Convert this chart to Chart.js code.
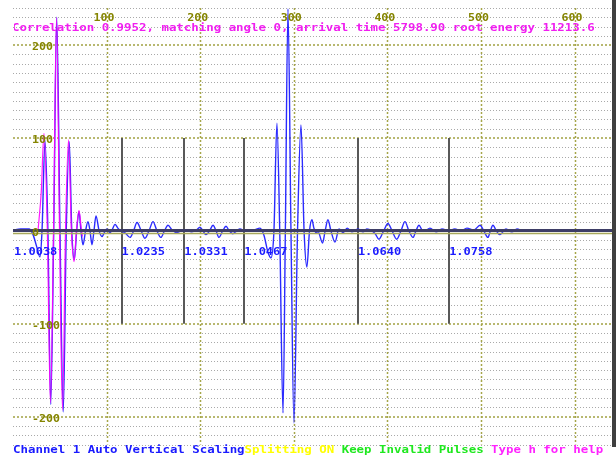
<!DOCTYPE html>
<html>
<head>
<meta charset="utf-8">
<script src="https://cdn.jsdelivr.net/npm/chart.js@4.4.0/dist/chart.umd.min.js"></script>
<style>
  html, body { margin: 0; padding: 0; background: #fff; overflow: hidden; }
  canvas { display: block; }
</style>
</head>
<body>
<canvas id="scope" width="616" height="455"></canvas>
<script>
// ---- Channel 1 trace (sample index, amplitude) ----
const traceX = [0, 8, 17.1, 21.4, 25.6, 28.8, 31, 34.2, 37.3, 40.3, 43.5, 46.7, 50.2, 53.7, 56.9, 60.1, 62.8, 65.5, 68, 70.5,
  72.6, 74.8, 77.5, 80.1, 82.3, 84.4, 86.5, 88.7, 92, 95.1, 98, 100.4, 103.6, 106.3, 109, 112, 115.4, 119.7, 125, 128.8,
  132.5, 137, 141, 145.3, 149.6, 153.8, 158, 161.8, 165.6, 170, 175, 179.5, 183.8, 191, 196, 199.8, 203, 206, 210, 213.7,
  217, 220, 224, 227.6, 231, 235, 239, 242.5, 247.9, 252, 256.4, 263.9, 268.2, 272.4, 275.6, 278.8, 282, 285, 288.5, 291,
  293.8, 297, 300.2, 304, 307.7, 311, 314, 316.8, 319.4, 321.5, 323.7, 326, 330.7, 333.5, 336.5, 339.7, 344, 348.3, 352.6, 357,
  362, 368.6, 374, 378, 383.5, 387, 391, 396, 400.6, 405, 410, 414.5, 418.8, 423, 427.4, 430.5, 433.8, 437, 440, 445.5,
  452, 458.3, 465.8, 472, 478.6, 485, 492.5, 499, 503, 507.5, 510, 512.8, 516.5, 520, 526.7, 533, 538.5, 543.8];
const traceY = [1, 2, 2, -4, -18, -28, 0, 97, 0, -187, 0, 230, 0, -195, 0, 96, 0, -31, 0, 21,
  0, -15, 0, 10, 0, -15, 0, 16, 0, -6, -1, 2, -2, 2, 7, 3, 0, -2, -7, 0,
  9, 0, -8, 0, 10, 0, -7, 0, 6, 1, -2, 0, 1, -1, 1, 4, 0, -4, 0, 6,
  0, -7, 0, 5, 0, -3, 0, 2, 0, 1, 1, 3, -5, -23, -29, 0, 116, 0, -196, 0,
  239, 0, -207, 0, 114, 0, -39, 0, 12, 3, -2, -1, -13, 0, 12, 0, -12, 2, -2, 3,
  -1, 2, -1, 2, 0, -3, -9, 0, 8, 0, -9, 0, 10, 0, -7, 0, 6, 1, 0, 3,
  -1, 2, 0, 2, 0, 3, 1, 6, 0, -7, 0, 6, 0, -4, 2, -1, 2, 0];

// ---- Matching template pulse ----
const templateX = [26.7, 30.2, 33.1, 36.7, 40, 43.3, 46.5, 49.7, 52.9, 56.1, 59.3, 62.4, 65.2, 67.8, 70.5, 72.8, 74.2];
const templateY = [0, 42, 105, 0, -185, 0, 230, 0, -193, 0, 98, 0, -33, 0, 22, 4, -6];

// ---- Pulse split markers ----
const markerX = [0, 116, 183, 247, 368.5, 466];
const markerLabels = ['1.0038', '1.0235', '1.0331', '1.0467', '1.0640', '1.0758'];

// ---- Axis ticks ----
const xTicks = [100, 200, 300, 400, 500, 600];
const yTicks = [200, 100, 0, -100, -200];
const X_MIN = 0, X_MAX = 640, Y_MIN = -230, Y_MAX = 240;

// ---- Status text ----
const headerText = 'Correlation 0.9952, matching angle 0, arrival time 5798.90 root energy 11213.6';
const statusParts = [
  ['Channel 1 Auto Vertical Scaling', '#1a1aff'],
  ['Splitting ON ', '#ffff00'],
  ['Keep Invalid Pulses ', '#1ee81e'],
  ['Type h for help', '#ff22ff']
];

const MONO = 'bold 10px "DejaVu Sans Mono"';
const CHAR_W = 7.47;

function monoText(ctx, str, x0, yc, color, stretch) {
  ctx.save();
  ctx.translate(x0, yc);
  ctx.scale(stretch, 1);
  ctx.font = MONO;
  ctx.textBaseline = 'middle';
  ctx.textAlign = 'left';
  ctx.fillStyle = color;
  ctx.fillText(str, 0, 0);
  ctx.restore();
}

function hLine(ctx, x1, x2, py, color, width, dash) {
  ctx.beginPath();
  ctx.setLineDash(dash || []);
  ctx.strokeStyle = color;
  ctx.lineWidth = width;
  ctx.moveTo(x1, py);
  ctx.lineTo(x2, py);
  ctx.stroke();
}

function vLine(ctx, px, y1, y2, color, width, dash) {
  ctx.beginPath();
  ctx.setLineDash(dash || []);
  ctx.strokeStyle = color;
  ctx.lineWidth = width;
  ctx.moveTo(px, y1);
  ctx.lineTo(px, y2);
  ctx.stroke();
}

const scopeDecor = {
  id: 'scopeDecor',
  beforeDatasetsDraw(chart) {
    const { ctx, chartArea: a, scales: { x, y } } = chart;
    ctx.save();
    // fine horizontal grid, every 10 units
    for (let v = Y_MIN; v <= Y_MAX; v += 10) {
      if (v % 100 === 0) continue;
      const py = Math.round(y.getPixelForValue(v)) + 0.5;
      hLine(ctx, a.left, a.right, py, '#a9a9a9', 1, [1, 2]);
    }
    // major horizontal grid
    for (const v of [200, 100, -100, -200]) {
      const py = Math.round(y.getPixelForValue(v));
      hLine(ctx, a.left, a.right, py, '#b8b870', 2, [2, 2]);
    }
    // vertical grid
    for (const v of xTicks) {
      const px = Math.round(x.getPixelForValue(v)) + 0.5;
      vLine(ctx, px, a.top, a.bottom, '#a6a64a', 1.5, [2, 2]);
    }
    // split markers
    markerX.forEach((v, i) => {
      if (v <= X_MIN) return;
      const px = Math.round(x.getPixelForValue(v));
      vLine(ctx, px, y.getPixelForValue(100), y.getPixelForValue(-100), '#595959', 2);
    });
    ctx.restore();
  },
  afterDatasetsDraw(chart) {
    const { ctx, chartArea: a, scales: { x, y } } = chart;
    ctx.save();
    // baseline
    const y0 = y.getPixelForValue(0);
    hLine(ctx, a.left, a.right, y0 + 2.5, '#a8a85a', 1.5);
    hLine(ctx, a.left, a.right, y0 - 0.5, '#3d3d66', 3);
    // right frame bar
    ctx.setLineDash([]);
    ctx.fillStyle = '#3f3f3f';
    ctx.fillRect(a.right, 0, 616 - a.right, 447);

    // axis labels
    for (const v of xTicks) {
      monoText(ctx, String(v), x.getPixelForValue(v) - 13, 18.5, '#858500', 1.16);
    }
    for (const v of yTicks) {
      monoText(ctx, String(v), 32, y.getPixelForValue(v) + 2.5, '#858500', 1.16);
    }
    // marker labels
    markerX.forEach((v, i) => {
      const px = Math.max(a.left + 1, x.getPixelForValue(v));
      monoText(ctx, markerLabels[i], px, 252, '#1a1aff', 1.2);
    });
    // header
    ctx.save();
    ctx.beginPath();
    ctx.rect(a.left + 1, 0, 616, 455);
    ctx.clip();
    monoText(ctx, headerText, 12, 28, '#f01ef0', CHAR_W / 6.02);
    ctx.restore();
    // status line
    let sx = 13;
    for (const [txt, col] of statusParts) {
      monoText(ctx, txt, sx, 450, col, CHAR_W / 6.02);
      sx += txt.length * CHAR_W;
    }
    ctx.restore();
  }
};

const tracePoints = traceX.map((v, i) => ({ x: v, y: traceY[i] }));
const templatePoints = templateX.map((v, i) => ({ x: v, y: templateY[i] }));

new Chart(document.getElementById('scope'), {
  type: 'line',
  data: {
    datasets: [
      {
        label: 'Channel 1',
        data: tracePoints,
        borderColor: 'rgba(20,20,255,0.9)',
        borderWidth: 1.4,
        pointRadius: 0,
        cubicInterpolationMode: 'monotone',
        fill: false,
        order: 2
      },
      {
        label: 'Template',
        data: templatePoints,
        borderColor: 'rgba(255,0,255,0.9)',
        borderWidth: 1.2,
        pointRadius: 0,
        cubicInterpolationMode: 'monotone',
        fill: false,
        order: 1
      }
    ]
  },
  options: {
    responsive: false,
    devicePixelRatio: 1,
    animation: false,
    layout: { padding: { left: 13, right: 4, top: 8, bottom: 10.5 } },
    scales: {
      x: { type: 'linear', min: X_MIN, max: X_MAX, display: false },
      y: { type: 'linear', min: Y_MIN, max: Y_MAX, display: false }
    },
    plugins: { legend: { display: false }, tooltip: { enabled: false } }
  },
  plugins: [scopeDecor]
});
</script>
</body>
</html>
